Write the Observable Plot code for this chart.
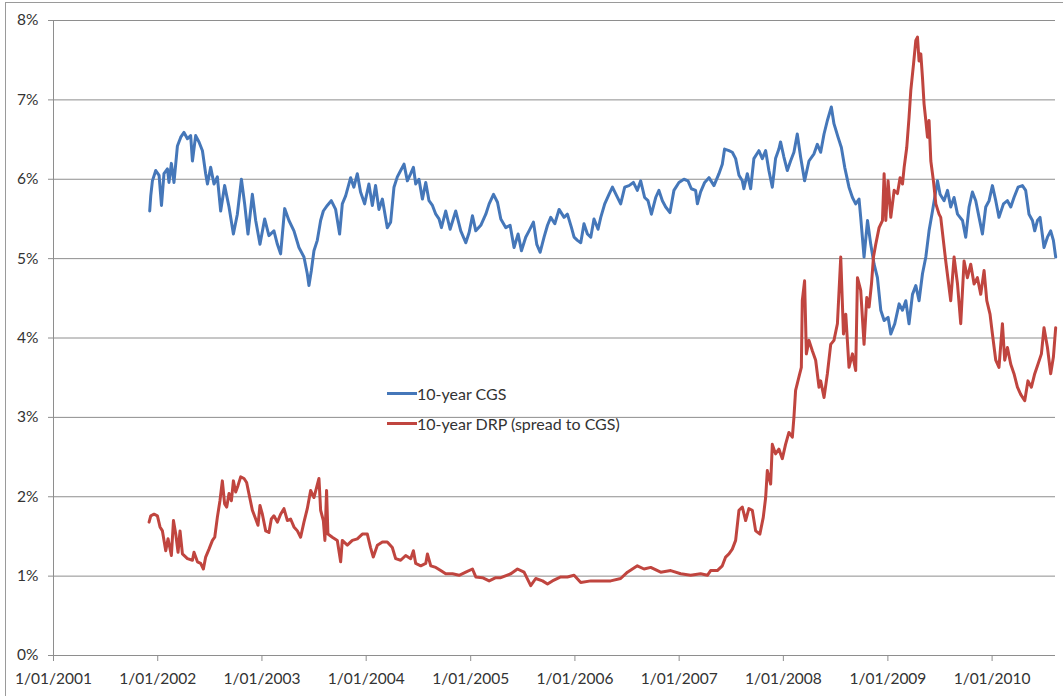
<!DOCTYPE html>
<html><head><meta charset="utf-8">
<script src="https://cdn.jsdelivr.net/npm/d3@7"></script>
<script src="https://cdn.jsdelivr.net/npm/@observablehq/plot@0.6"></script>
<style>
body{margin:0;background:#fff;font-family:Lato,"Open Sans",sans-serif;}
#wrap{position:relative;width:1063px;height:696px;overflow:hidden;background:#fff;}
#frame{position:absolute;left:5px;top:2px;width:1100px;height:760px;border:1px solid #9a9a9a;}
#chart{position:absolute;left:0;top:0;}
.leg{position:absolute;left:387px;height:20px;display:flex;align-items:center;font-size:16px;color:#333;white-space:nowrap;}
.leg .sw{display:inline-block;width:30px;height:3px;}
</style></head><body>
<div id="wrap"><div id="frame"></div><div id="chart"></div>
<div class="leg" id="leg1" style="top:383px"><span class="sw"></span><span class="lt"></span></div>
<div class="leg" id="leg2" style="top:413px"><span class="sw"></span><span class="lt"></span></div>
</div>
<script>
// ---- data (decimal year, percent) ----
const seriesNames = ["10-year CGS", "10-year DRP (spread to CGS)"];
const seriesColors = ["#4577B9", "#C0453F"];
const yTicks = [0,1,2,3,4,5,6,7,8];
const xTickYears = [2001,2002,2003,2004,2005,2006,2007,2008,2009,2010];

const cgsYears = [2001.923,2001.933,2001.949,2001.981,2002.013,2002.036,2002.060,2002.093,2002.108,2002.131,2002.156,2002.189,2002.221,2002.252,2002.285,2002.316,2002.333,2002.364,2002.396,2002.429,2002.460,2002.477,2002.508,2002.540,2002.572,2002.604,2002.642,2002.684,2002.726,2002.764,2002.803,2002.834,2002.866,2002.908,2002.940,2002.981,2003.026,2003.067,2003.115,2003.148,2003.179,2003.218,2003.259,2003.307,2003.355,2003.403,2003.435,2003.451,2003.474,2003.499,2003.531,2003.563,2003.589,2003.627,2003.665,2003.707,2003.745,2003.771,2003.803,2003.851,2003.882,2003.915,2003.946,2003.985,2004.026,2004.059,2004.090,2004.122,2004.155,2004.202,2004.234,2004.266,2004.298,2004.330,2004.362,2004.394,2004.426,2004.452,2004.474,2004.505,2004.538,2004.570,2004.601,2004.634,2004.666,2004.697,2004.720,2004.761,2004.803,2004.857,2004.905,2004.953,2004.985,2005.017,2005.049,2005.097,2005.145,2005.177,2005.219,2005.257,2005.289,2005.337,2005.378,2005.416,2005.455,2005.487,2005.528,2005.560,2005.602,2005.634,2005.666,2005.704,2005.737,2005.768,2005.807,2005.848,2005.896,2005.928,2005.967,2005.992,2006.024,2006.056,2006.087,2006.120,2006.152,2006.183,2006.222,2006.248,2006.286,2006.327,2006.360,2006.401,2006.439,2006.478,2006.519,2006.561,2006.599,2006.631,2006.669,2006.701,2006.734,2006.775,2006.806,2006.839,2006.871,2006.912,2006.950,2006.998,2007.046,2007.085,2007.117,2007.158,2007.175,2007.206,2007.245,2007.286,2007.334,2007.382,2007.414,2007.436,2007.478,2007.510,2007.542,2007.574,2007.606,2007.621,2007.654,2007.686,2007.717,2007.765,2007.798,2007.830,2007.861,2007.894,2007.925,2007.957,2007.973,2008.005,2008.038,2008.069,2008.101,2008.133,2008.165,2008.203,2008.245,2008.293,2008.325,2008.357,2008.389,2008.421,2008.459,2008.484,2008.523,2008.555,2008.587,2008.628,2008.661,2008.692,2008.724,2008.740,2008.772,2008.805,2008.836,2008.868,2008.900,2008.932,2008.964,2009.002,2009.028,2009.066,2009.108,2009.140,2009.172,2009.203,2009.236,2009.268,2009.299,2009.332,2009.364,2009.395,2009.428,2009.476,2009.501,2009.539,2009.572,2009.603,2009.635,2009.668,2009.716,2009.747,2009.779,2009.811,2009.843,2009.875,2009.907,2009.939,2009.971,2010.003,2010.035,2010.066,2010.109,2010.147,2010.179,2010.210,2010.249,2010.291,2010.322,2010.354,2010.387,2010.409,2010.435,2010.460,2010.498,2010.531,2010.562,2010.588,2010.610];
const cgsValues = [5.60,5.79,5.98,6.11,6.05,5.67,6.07,6.13,5.96,6.20,5.96,6.42,6.53,6.59,6.51,6.55,6.23,6.55,6.47,6.36,6.07,5.94,6.15,5.94,6.03,5.60,5.92,5.65,5.31,5.56,6.00,5.69,5.31,5.81,5.48,5.18,5.50,5.29,5.35,5.18,5.06,5.63,5.48,5.35,5.14,5.02,4.81,4.66,4.85,5.10,5.23,5.48,5.60,5.67,5.73,5.62,5.31,5.69,5.79,6.02,5.90,6.07,5.84,5.69,5.94,5.67,5.92,5.62,5.75,5.39,5.46,5.90,6.03,6.11,6.19,5.98,6.07,6.15,5.94,6.00,5.75,5.96,5.73,5.67,5.56,5.50,5.39,5.60,5.37,5.60,5.35,5.20,5.33,5.54,5.35,5.42,5.56,5.69,5.81,5.71,5.50,5.39,5.42,5.14,5.31,5.10,5.27,5.35,5.46,5.18,5.08,5.27,5.42,5.52,5.44,5.62,5.52,5.56,5.39,5.27,5.23,5.20,5.44,5.31,5.27,5.50,5.37,5.52,5.69,5.81,5.90,5.79,5.69,5.90,5.92,5.96,5.86,5.98,5.77,5.73,5.56,5.77,5.86,5.73,5.65,5.58,5.86,5.96,6.00,5.98,5.88,5.86,5.69,5.84,5.96,6.02,5.92,6.07,6.19,6.38,6.36,6.34,6.26,6.05,5.98,5.88,6.07,5.88,6.26,6.36,6.26,6.36,6.11,5.90,6.26,6.38,6.47,6.28,6.11,6.23,6.34,6.57,6.28,5.98,6.23,6.32,6.44,6.34,6.57,6.74,6.91,6.70,6.53,6.40,6.15,5.90,5.77,5.69,5.75,5.52,5.02,5.48,5.18,4.93,4.76,4.35,4.22,4.26,4.05,4.18,4.43,4.35,4.47,4.18,4.55,4.66,4.47,4.81,5.02,5.35,5.60,5.98,5.81,5.73,5.86,5.65,5.77,5.56,5.48,5.27,5.65,5.84,5.73,5.52,5.31,5.65,5.73,5.92,5.73,5.52,5.69,5.73,5.65,5.77,5.90,5.92,5.86,5.56,5.48,5.35,5.48,5.52,5.14,5.27,5.35,5.23,5.02];

const drpYears = [2001.917,2001.933,2001.965,2001.997,2002.022,2002.045,2002.077,2002.099,2002.131,2002.151,2002.173,2002.195,2002.214,2002.237,2002.285,2002.333,2002.348,2002.381,2002.412,2002.438,2002.460,2002.492,2002.525,2002.547,2002.572,2002.597,2002.620,2002.642,2002.662,2002.684,2002.707,2002.726,2002.748,2002.770,2002.796,2002.828,2002.853,2002.875,2002.908,2002.940,2002.962,2002.981,2003.004,2003.036,2003.067,2003.090,2003.115,2003.148,2003.179,2003.211,2003.244,2003.275,2003.307,2003.340,2003.371,2003.403,2003.435,2003.467,2003.499,2003.525,2003.547,2003.563,2003.589,2003.604,2003.620,2003.633,2003.675,2003.723,2003.755,2003.771,2003.819,2003.867,2003.915,2003.963,2004.011,2004.042,2004.068,2004.107,2004.155,2004.202,2004.250,2004.282,2004.330,2004.378,2004.426,2004.452,2004.474,2004.522,2004.570,2004.586,2004.618,2004.666,2004.713,2004.761,2004.826,2004.889,2004.953,2005.017,2005.049,2005.113,2005.177,2005.241,2005.289,2005.385,2005.449,2005.512,2005.576,2005.624,2005.689,2005.737,2005.784,2005.864,2005.928,2005.992,2006.056,2006.152,2006.248,2006.343,2006.439,2006.504,2006.599,2006.663,2006.727,2006.823,2006.919,2007.015,2007.110,2007.206,2007.271,2007.302,2007.366,2007.414,2007.446,2007.478,2007.510,2007.542,2007.574,2007.606,2007.638,2007.669,2007.702,2007.734,2007.775,2007.807,2007.830,2007.846,2007.878,2007.894,2007.925,2007.957,2007.990,2008.021,2008.053,2008.086,2008.101,2008.117,2008.149,2008.172,2008.181,2008.203,2008.220,2008.245,2008.277,2008.309,2008.341,2008.357,2008.389,2008.421,2008.453,2008.484,2008.517,2008.549,2008.575,2008.597,2008.628,2008.661,2008.692,2008.709,2008.740,2008.772,2008.798,2008.820,2008.843,2008.862,2008.884,2008.916,2008.948,2008.964,2008.980,2009.002,2009.028,2009.060,2009.092,2009.117,2009.140,2009.156,2009.181,2009.203,2009.220,2009.246,2009.268,2009.284,2009.299,2009.316,2009.332,2009.347,2009.364,2009.380,2009.395,2009.412,2009.437,2009.460,2009.491,2009.507,2009.555,2009.603,2009.635,2009.668,2009.699,2009.731,2009.763,2009.795,2009.827,2009.859,2009.891,2009.923,2009.949,2009.980,2010.003,2010.035,2010.066,2010.099,2010.121,2010.147,2010.179,2010.210,2010.243,2010.274,2010.313,2010.344,2010.377,2010.409,2010.440,2010.473,2010.498,2010.531,2010.562,2010.588,2010.610];
const drpValues = [1.68,1.76,1.78,1.76,1.62,1.57,1.32,1.47,1.26,1.70,1.53,1.30,1.57,1.28,1.22,1.20,1.30,1.18,1.16,1.09,1.24,1.34,1.45,1.49,1.74,1.95,2.20,1.91,1.87,2.04,1.95,2.20,2.06,2.14,2.25,2.23,2.18,2.04,1.83,1.72,1.64,1.89,1.78,1.57,1.55,1.72,1.76,1.68,1.78,1.85,1.70,1.72,1.62,1.57,1.49,1.68,1.85,2.08,1.99,2.12,2.23,1.83,1.70,1.45,2.08,1.53,1.49,1.45,1.18,1.45,1.39,1.45,1.47,1.53,1.53,1.36,1.24,1.39,1.43,1.43,1.36,1.22,1.20,1.26,1.22,1.32,1.16,1.13,1.16,1.28,1.13,1.11,1.07,1.03,1.03,1.01,1.05,1.09,0.99,0.98,0.94,0.98,0.98,1.03,1.09,1.05,0.88,0.97,0.94,0.90,0.94,0.99,0.99,1.01,0.92,0.94,0.94,0.94,0.97,1.05,1.13,1.09,1.11,1.05,1.07,1.03,1.01,1.03,1.01,1.07,1.07,1.13,1.24,1.28,1.34,1.45,1.83,1.87,1.70,1.85,1.83,1.57,1.53,1.74,1.99,2.33,2.16,2.66,2.54,2.60,2.48,2.66,2.81,2.75,3.00,3.34,3.51,3.63,4.47,4.72,3.80,3.97,3.84,3.72,3.38,3.46,3.25,3.55,3.92,3.97,4.18,5.02,4.05,4.30,3.63,3.80,3.59,4.76,4.60,3.92,4.51,4.39,4.68,5.02,5.18,5.39,5.48,6.07,5.48,5.98,5.52,5.86,5.82,6.02,5.94,6.15,6.40,6.78,7.12,7.45,7.75,7.79,7.49,7.58,7.28,6.95,6.74,6.53,6.74,6.23,5.98,5.69,5.56,5.52,4.97,4.47,5.02,4.68,4.18,4.97,4.76,4.93,4.68,4.76,4.55,4.85,4.47,4.30,4.05,3.72,3.63,4.18,3.72,3.88,3.67,3.55,3.38,3.29,3.21,3.46,3.38,3.55,3.67,3.80,4.13,3.88,3.55,3.76,4.13];

// ---- build tables ----
function toDate(y){
  const yr = Math.floor(y);
  const s = Date.UTC(yr,0,1), e = Date.UTC(yr+1,0,1);
  return new Date(s + (y - yr) * (e - s));
}
const cgs = cgsYears.map((y,i)=>({date: toDate(y), value: cgsValues[i]}));
const drp = drpYears.map((y,i)=>({date: toDate(y), value: drpValues[i]}));
const xTicks = xTickYears.map(y => new Date(Date.UTC(y,0,1)));
const xStart = new Date(Date.UTC(2001,0,1));
const xEnd = new Date(Date.UTC(2010,7,11));
const gridColor = "#8e8e8e";

const chart = Plot.plot({
  width: 1063, height: 696,
  marginLeft: 53, marginRight: 8, marginTop: 20, marginBottom: 41,
  style: {fontFamily: "Lato, 'Open Sans', sans-serif", fontSize: "15.5px", color: "#333", background: "transparent", overflow: "visible"},
  x: {type: "utc", domain: [xStart, xEnd]},
  y: {domain: [0, 8]},
  marks: [
    Plot.ruleY(yTicks, {stroke: gridColor, strokeWidth: 1}),
    Plot.ruleX([xStart], {stroke: gridColor, strokeWidth: 1}),
    Plot.axisY({ticks: yTicks, tickFormat: d => d + "%", tickSize: 5, tickPadding: 10, stroke: gridColor, label: null}),
    Plot.axisX({ticks: xTicks, tickFormat: d => "1/01/" + d.getUTCFullYear(), tickSize: 6, tickPadding: 11, stroke: gridColor, label: null}),
    Plot.line(cgs, {x: "date", y: "value", stroke: seriesColors[0], strokeWidth: 3, strokeLinejoin: "round"}),
    Plot.line(drp, {x: "date", y: "value", stroke: seriesColors[1], strokeWidth: 3, strokeLinejoin: "round"})
  ]
});
document.getElementById("chart").appendChild(chart);

["leg1","leg2"].forEach((id,i)=>{
  const el = document.getElementById(id);
  el.querySelector(".sw").style.background = seriesColors[i];
  el.querySelector(".lt").textContent = seriesNames[i];
});
</script>
</body></html>
